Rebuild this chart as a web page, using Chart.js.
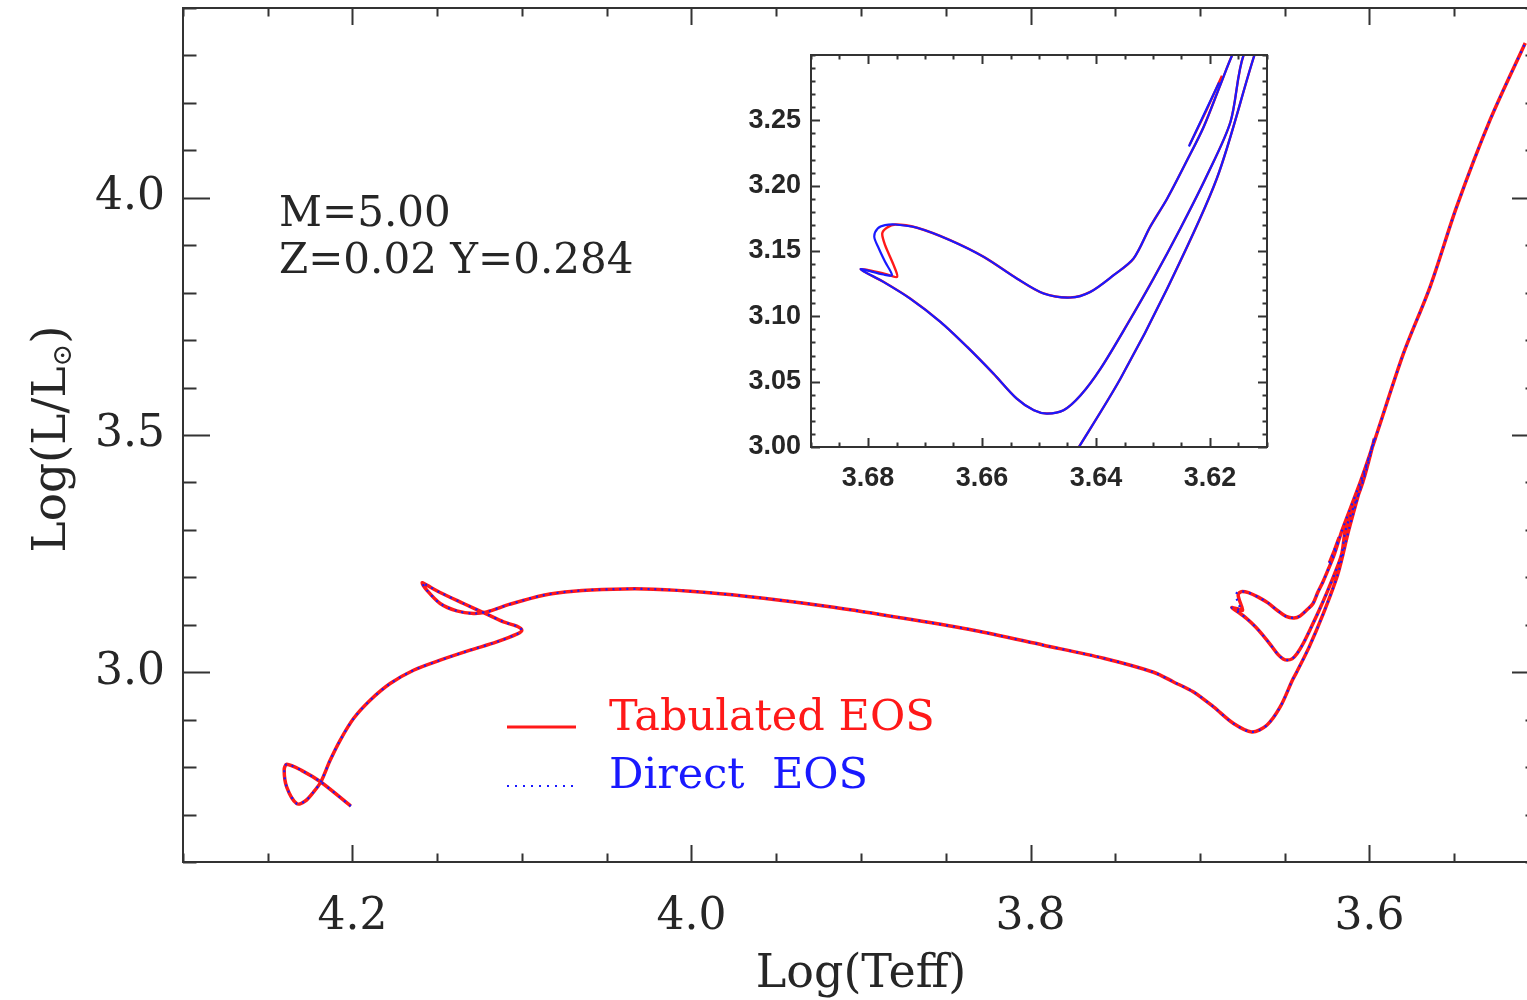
<!DOCTYPE html>
<html>
<head>
<meta charset="utf-8">
<script src="https://cdn.jsdelivr.net/npm/chart.js@4.4.1/dist/chart.umd.min.js"></script>
<style>
  html, body { margin: 0; padding: 0; background: #fff; overflow: hidden; }
  #wrap { position: relative; width: 1527px; height: 1000px; overflow: hidden; background: #fff; }
  #main { position: absolute; left: 0; top: 0; }
  #inset { position: absolute; left: 700px; top: 40px; }
</style>
</head>
<body>
<div id="wrap">
  <canvas id="main" width="1545" height="1000"></canvas>
  <canvas id="inset" width="600" height="470"></canvas>
</div>
<script>
// M=5 track: pre-MS settling, main sequence and the MS hook
const zamsLogT = [4.2010, 4.2187, 4.2301, 4.2388, 4.2403, 4.2388, 4.2329, 4.2279, 4.2230, 4.2187,
  4.2132, 4.2073, 4.1994, 4.1896, 4.1778, 4.1640, 4.1483, 4.1306, 4.1149, 4.1031, 4.1001, 4.1031,
  4.1109, 4.1208, 4.1345, 4.1483, 4.1562, 4.1589, 4.1562, 4.1483, 4.1385, 4.1286, 4.1208, 4.1070, 4.0873];
const zamsLogL = [2.7179, 2.7686, 2.7932, 2.8059, 2.7947, 2.7580, 2.7230, 2.7285, 2.7475, 2.7686,
  2.8143, 2.8565, 2.9023, 2.9409, 2.9761, 3.0042, 3.0253, 3.0464, 3.0640, 3.0802, 3.0886, 3.0970,
  3.1061, 3.1224, 3.1449, 3.1681, 3.1835, 3.1884, 3.1730, 3.1449, 3.1293, 3.1238, 3.1272, 3.1435, 3.1624];

// Hertzsprung gap, base of the RGB and the climb to the tip
const gapLogT = [4.0696, 4.0460, 4.0224, 3.9929, 3.9575, 3.9162, 3.8749, 3.8336, 3.7923, 3.7569,
  3.7274, 3.7156, 3.7038, 3.6920, 3.6802, 3.6694, 3.6606, 3.6527, 3.6455, 3.6430, 3.6357, 3.6275,
  3.6188, 3.6122, 3.6045, 3.5970];
const gapLogL = [3.1709, 3.1751, 3.1751, 3.1688, 3.1561, 3.1371, 3.1139, 3.0886, 3.0570, 3.0295,
  3.0000, 2.9795, 2.9584, 2.9268, 2.8918, 2.8741, 2.8882, 2.9268, 2.9831, 3.0000, 3.0524, 3.1213,
  3.2055, 3.3000, 3.4000, 3.4940];

// descent after He ignition, lower half of the blue loop
const descentLogT = [3.6040, 3.6141, 3.6164, 3.6205, 3.6252, 3.6299, 3.6346, 3.6392, 3.6427, 3.6457,
  3.6486, 3.6509, 3.6539, 3.6580, 3.6626, 3.6673, 3.6726, 3.6773, 3.6813];
const descentLogL = [3.4000, 3.3000, 3.2489, 3.2081, 3.1672, 3.1290, 3.0932, 3.0600, 3.0396, 3.0281,
  3.0256, 3.0281, 3.0370, 3.0562, 3.0766, 3.0958, 3.1136, 3.1264, 3.1361];

// the small hook at the blue edge differs between the two EOS runs
const hookTabLogT = [3.6770, 3.6749, 3.6755, 3.6770, 3.6775, 3.6767];
const hookTabLogL = [3.1325, 3.1302, 3.1392, 3.1545, 3.1634, 3.1678];
const hookDirectLogT = [3.6773, 3.6758, 3.6770, 3.6781, 3.6789, 3.6783, 3.6770];
const hookDirectLogL = [3.1320, 3.1315, 3.1417, 3.1519, 3.1609, 3.1672, 3.1698];

// upper half of the loop and the AGB
const agbLogT = [3.6752, 3.6714, 3.6656, 3.6597, 3.6539, 3.6492, 3.6445, 3.6410, 3.6369, 3.6334,
  3.6305, 3.6275, 3.6240, 3.6211, 3.6182, 3.6161, 3.6055, 3.5965, 3.5799, 3.5642, 3.5485, 3.5288, 3.5081];
const agbLogL = [3.1703, 3.1678, 3.1583, 3.1455, 3.1290, 3.1175, 3.1144, 3.1187, 3.1315, 3.1443,
  3.1685, 3.1902, 3.2196, 3.2451, 3.2770, 3.3000, 3.4000, 3.4937, 3.6724, 3.8129, 3.9817, 4.1646, 4.3264];

// short end piece lying along the AGB
const tipTabLogT = [3.6236, 3.6207, 3.6179];
const tipTabLogL = [3.2311, 3.2570, 3.2842];
const tipDirectLogT = [3.6237, 3.6209, 3.6184];
const tipDirectLogL = [3.2300, 3.2560, 3.2790];

// axis ticks
const mainXTicks = [4.2, 4.0, 3.8, 3.6];
const mainYTicks = [3.0, 3.5, 4.0];
const insetXTicks = [3.68, 3.66, 3.64, 3.62];
const insetYTicks = [3.00, 3.05, 3.10, 3.15, 3.20, 3.25];

const RED = 'rgb(255, 25, 25)';
const BLUE = 'rgb(25, 25, 255)';
const INK = '#262626';
const SERIF = '"DejaVu Serif", "Liberation Serif", serif';
const SANS = '"Liberation Sans", Arial, sans-serif';

function pts(t, l) {
  return t.map((x, i) => ({ x: x, y: l[i] }));
}

function steps(from, to, step) {
  const out = [];
  const n = Math.round((to - from) / step);
  for (let i = 0; i <= n; i++) out.push(+(from + i * step).toFixed(4));
  return out;
}

const tabulatedTrack = [].concat(
  pts(zamsLogT, zamsLogL), pts(gapLogT, gapLogL), pts(descentLogT, descentLogL),
  pts(hookTabLogT, hookTabLogL), pts(agbLogT, agbLogL));
const directTrack = [].concat(
  pts(zamsLogT, zamsLogL), pts(gapLogT, gapLogL), pts(descentLogT, descentLogL),
  pts(hookDirectLogT, hookDirectLogL), pts(agbLogT, agbLogL));

// keep the plot box exactly where the layout puts it, no room reserved for edge labels
function noEdgePadding(s) {
  s.paddingTop = 0;
  s.paddingBottom = 0;
  s.paddingLeft = 0;
  s.paddingRight = 0;
}

// box around the plot area plus inward ticks on all four sides
const frameTicks = {
  id: 'frameTicks',
  afterDatasetsDraw(chart, args, o) {
    const { ctx, chartArea: a } = chart;
    const xs = chart.scales.x, ys = chart.scales.y;
    ctx.save();
    ctx.strokeStyle = o.color;
    ctx.lineWidth = o.width;
    ctx.beginPath();
    const xTick = (v, len) => {
      const p = Math.round(xs.getPixelForValue(v)) + 0.5;
      ctx.moveTo(p, a.bottom); ctx.lineTo(p, a.bottom - len);
      ctx.moveTo(p, a.top); ctx.lineTo(p, a.top + len);
    };
    const yTick = (v, len) => {
      const p = Math.round(ys.getPixelForValue(v)) + 0.5;
      ctx.moveTo(a.left, p); ctx.lineTo(a.left + len, p);
      ctx.moveTo(a.right, p); ctx.lineTo(a.right - len, p);
    };
    o.xMinor.forEach(v => xTick(v, o.xLen / 2));
    o.xMajor.forEach(v => xTick(v, o.xLen));
    o.yMinor.forEach(v => yTick(v, o.yLen / 2));
    o.yMajor.forEach(v => yTick(v, o.yLen));
    ctx.stroke();
    ctx.strokeRect(a.left, a.top, a.right - a.left, a.bottom - a.top);
    ctx.restore();
  }
};

// model parameters, legend and the rotated y title with the solar subscript
const mainText = {
  id: 'mainText',
  afterDraw(chart) {
    const ctx = chart.ctx;
    ctx.save();
    ctx.fillStyle = INK;
    ctx.font = '42px ' + SERIF;
    ctx.textBaseline = 'alphabetic';
    ctx.textAlign = 'left';
    ctx.fillText('M=5.00', 279, 226);
    ctx.fillText('Z=0.02 Y=0.284', 279, 273);

    // legend
    ctx.lineWidth = 3;
    ctx.strokeStyle = RED;
    ctx.beginPath(); ctx.moveTo(507, 727); ctx.lineTo(576, 727); ctx.stroke();
    ctx.lineWidth = 2.2;
    ctx.strokeStyle = BLUE;
    ctx.setLineDash([2, 6]);
    ctx.beginPath(); ctx.moveTo(507, 786); ctx.lineTo(574, 786); ctx.stroke();
    ctx.setLineDash([]);
    ctx.font = '43px ' + SERIF;
    ctx.fillStyle = RED;
    ctx.fillText('Tabulated EOS', 609, 730);
    ctx.fillStyle = BLUE;
    ctx.fillText('Direct  EOS', 609, 788);

    // y title
    ctx.fillStyle = INK;
    ctx.translate(65, 439);
    ctx.rotate(-Math.PI / 2);
    const big = '47px ' + SERIF, small = '27px ' + SERIF;
    ctx.font = big;
    const w1 = ctx.measureText('Log(L/L').width;
    const w3 = ctx.measureText(')').width;
    ctx.font = small;
    const w2 = ctx.measureText('\u2299').width;
    let x = -(w1 + w2 + w3) / 2;
    ctx.font = big;
    ctx.fillText('Log(L/L', x, 0);
    x += w1;
    ctx.font = small;
    ctx.fillText('\u2299', x, 6);
    x += w2;
    ctx.font = big;
    ctx.fillText(')', x, 0);
    ctx.restore();
  }
};

// blue runs get the lower order so they sit on top of the red ones
function trackSets(width, dash) {
  return [
    { label: 'Direct EOS', data: directTrack, showLine: true, borderColor: BLUE, order: 1,
      borderWidth: width.blue, borderDash: dash, pointRadius: 0, tension: 0.3 },
    { label: 'Direct EOS end', data: pts(tipDirectLogT, tipDirectLogL), showLine: true, borderColor: BLUE,
      order: 1, borderWidth: width.blue, borderDash: dash, pointRadius: 0 },
    { label: 'Tabulated EOS', data: tabulatedTrack, showLine: true, borderColor: RED, order: 2,
      borderWidth: width.red, pointRadius: 0, tension: 0.3 },
    { label: 'Tabulated EOS end', data: pts(tipTabLogT, tipTabLogL), showLine: true, borderColor: RED,
      order: 2, borderWidth: width.red, pointRadius: 0 }
  ];
}

const mainChart = new Chart(document.getElementById('main'), {
  type: 'scatter',
  data: { datasets: trackSets({ red: 3.5, blue: 2.2 }, [2, 5]) },
  options: {
    responsive: false,
    animation: false,
    events: [],
    layout: { padding: { top: 8, right: 6, left: 0, bottom: 0 } },
    plugins: {
      legend: { display: false },
      tooltip: { enabled: false },
      frameTicks: {
        color: '#333', width: 2,
        xMajor: mainXTicks, xMinor: steps(3.5, 4.3, 0.05), xLen: 17,
        yMajor: mainYTicks, yMinor: steps(2.6, 4.4, 0.1), yLen: 27
      }
    },
    scales: {
      x: {
        type: 'linear', reverse: true, min: 3.5, max: 4.3,
        grid: { display: false, drawTicks: false }, border: { display: false },
        afterBuildTicks: s => { s.ticks = mainXTicks.map(v => ({ value: v })); },
        afterFit: s => { s.height = 138; noEdgePadding(s); },
        ticks: { autoSkip: false, maxRotation: 0, padding: 29, color: INK,
          font: { family: SERIF, size: 44 }, callback: v => v.toFixed(1) },
        title: { display: true, text: 'Log(Teff)', color: INK, padding: { top: 0, bottom: -3 },
          font: { family: SERIF, size: 46 } }
      },
      y: {
        type: 'linear', min: 2.6, max: 4.4,
        grid: { display: false, drawTicks: false }, border: { display: false },
        afterBuildTicks: s => { s.ticks = mainYTicks.map(v => ({ value: v })); },
        afterFit: s => { s.width = 183; noEdgePadding(s); },
        ticks: { autoSkip: false, padding: 18, color: INK,
          font: { family: SERIF, size: 44 }, callback: v => v.toFixed(1) }
      }
    }
  },
  plugins: [frameTicks, mainText]
});

const insetChart = new Chart(document.getElementById('inset'), {
  type: 'scatter',
  data: { datasets: trackSets({ red: 2.4, blue: 2.2 }, []) },
  options: {
    responsive: false,
    animation: false,
    events: [],
    layout: { padding: { top: 15, right: 33, left: 0, bottom: 0 } },
    plugins: {
      legend: { display: false },
      tooltip: { enabled: false },
      frameTicks: {
        color: '#333', width: 2,
        xMajor: insetXTicks, xMinor: steps(3.61, 3.69, 0.005), xLen: 9,
        yMajor: insetYTicks, yMinor: steps(3.0, 3.3, 0.01), yLen: 9
      }
    },
    scales: {
      x: {
        type: 'linear', reverse: true, min: 3.61, max: 3.69,
        grid: { display: false, drawTicks: false }, border: { display: false },
        afterBuildTicks: s => { s.ticks = insetXTicks.map(v => ({ value: v })); },
        afterFit: s => { s.height = 63; noEdgePadding(s); },
        ticks: { autoSkip: false, maxRotation: 0, padding: 15, color: INK,
          font: { family: SANS, size: 27, weight: 'bold' }, callback: v => v.toFixed(2) }
      },
      y: {
        type: 'linear', min: 3.0, max: 3.3,
        grid: { display: false, drawTicks: false }, border: { display: false },
        afterBuildTicks: s => { s.ticks = insetYTicks.map(v => ({ value: v })); },
        afterFit: s => { s.width = 111; noEdgePadding(s); },
        ticks: { autoSkip: false, padding: 10, color: INK,
          font: { family: SANS, size: 27, weight: 'bold' }, callback: v => v.toFixed(2) }
      }
    }
  },
  plugins: [frameTicks]
});
</script>
</body>
</html>
